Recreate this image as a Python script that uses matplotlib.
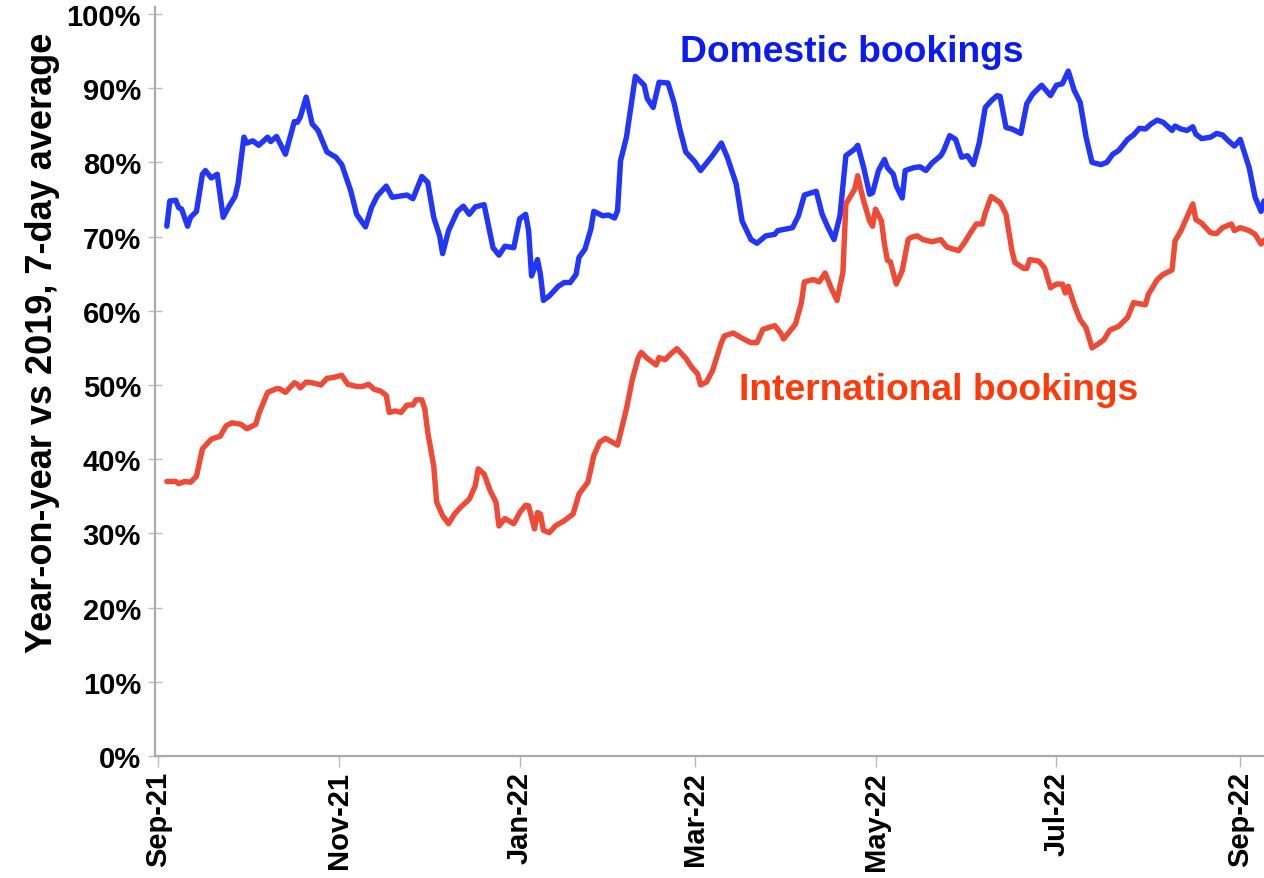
#!/usr/bin/env python3
"""Domestic vs international bookings, year-on-year vs 2019 (7-day average)."""

from datetime import date, timedelta

import matplotlib

matplotlib.use("Agg")
import matplotlib.dates as mdates
import matplotlib.pyplot as plt
from matplotlib.ticker import FixedLocator, FuncFormatter

START = date(2021, 9, 1)

# days after 1 Sep 2021, % of 2019 level
dom_day = [
    3, 4, 6, 7, 8, 10, 11, 13, 15, 16, 18, 20, 22, 24, 26, 27, 29, 30, 32, 34,
    37, 38, 40, 43, 46, 47, 48, 50, 52, 54, 57, 60, 62, 65, 67, 70, 72, 74, 77, 79,
    84, 86, 89, 91, 93, 95, 96, 98, 101, 103, 105, 107, 110, 113, 115, 117, 120, 122, 124, 125,
    126, 128, 129, 130, 132, 135, 137, 139, 141, 142, 144, 146, 147, 150, 152, 154, 155, 156, 158, 160,
    161, 164, 165, 167, 169, 172, 174, 176, 178, 181, 183, 187, 190, 192, 195, 197, 200, 202, 205, 208,
    209, 214, 216, 218, 222, 224, 226, 228, 230, 232, 235, 236, 238, 240, 241, 243, 245, 246, 248, 249,
    251, 252, 255, 257, 259, 261, 264, 265, 267, 269, 271, 273, 275, 277, 279, 281, 283, 284, 286, 288,
    291, 293, 295, 298, 301, 303, 305, 307, 309, 311, 313, 315, 318, 320, 322, 324, 327, 329, 331, 333,
    335, 337, 339, 342, 343, 345, 347, 349, 350, 352, 355, 357, 359, 361, 363, 365, 366, 368, 369, 370,
    372, 373,
]
dom_pct = [
    71.4, 74.8, 74.9, 73.9, 73.7, 71.4, 72.6, 73.4, 78.4, 78.9, 77.9, 78.4, 72.6, 74.1, 75.4, 77.1, 83.4, 82.6, 82.9, 82.3,
    83.4, 82.8, 83.5, 81.1, 85.5, 85.4, 86.1, 88.8, 85.2, 84.3, 81.4, 80.7, 79.7, 76.2, 73.0, 71.3, 73.9, 75.5, 76.8, 75.3,
    75.6, 75.1, 78.1, 77.3, 72.6, 70.1, 67.7, 70.8, 73.4, 74.1, 73.0, 74.0, 74.3, 68.5, 67.5, 68.7, 68.5, 72.4, 73.0, 70.8,
    64.7, 66.9, 64.9, 61.4, 62.0, 63.3, 63.8, 63.8, 64.9, 67.2, 68.3, 71.0, 73.4, 72.8, 72.9, 72.5, 73.5, 80.2, 83.4, 88.8,
    91.6, 90.4, 88.6, 87.4, 90.8, 90.7, 88.1, 84.5, 81.4, 80.1, 78.9, 80.9, 82.6, 80.7, 77.1, 72.1, 69.6, 69.1, 70.1, 70.3,
    70.8, 71.2, 72.8, 75.6, 76.1, 73.0, 71.2, 69.6, 72.8, 80.9, 81.8, 82.3, 79.3, 75.7, 75.9, 78.9, 80.4, 79.3, 78.4, 76.8,
    75.2, 78.9, 79.3, 79.4, 78.9, 79.9, 80.9, 81.6, 83.6, 83.1, 80.7, 80.9, 79.7, 82.7, 87.4, 88.3, 89.0, 88.9, 84.7, 84.5,
    83.9, 87.9, 89.2, 90.4, 89.0, 90.4, 90.6, 92.3, 89.7, 88.1, 83.4, 80.0, 79.7, 80.0, 81.1, 81.6, 83.1, 83.7, 84.6, 84.5,
    85.2, 85.7, 85.4, 84.3, 84.9, 84.5, 84.3, 84.8, 83.8, 83.2, 83.4, 83.9, 83.7, 82.9, 82.2, 83.1, 81.8, 79.3, 77.3, 75.3,
    73.4, 74.8,
]

intl_day = [
    3, 6, 7, 9, 11, 13, 15, 18, 21, 23, 25, 28, 30, 33, 34, 37, 40, 41, 43, 46,
    47, 48, 50, 52, 55, 57, 59, 62, 64, 67, 69, 71, 73, 75, 77, 78, 80, 82, 84, 86,
    87, 89, 90, 91, 93, 94, 96, 98, 100, 102, 105, 107, 108, 110, 112, 114, 115, 117, 120, 122,
    124, 125, 127, 128, 129, 130, 132, 134, 137, 140, 142, 145, 147, 149, 151, 155, 158, 160, 162, 163,
    165, 168, 169, 171, 173, 175, 178, 180, 182, 183, 185, 187, 190, 191, 194, 197, 200, 202, 204, 208,
    210, 211, 213, 215, 217, 218, 221, 223, 225, 227, 229, 231, 232, 235, 236, 237, 238, 240, 241, 242,
    244, 245, 246, 247, 249, 251, 253, 254, 256, 258, 261, 264, 266, 270, 272, 274, 276, 278, 279, 281,
    284, 286, 288, 289, 292, 293, 294, 297, 299, 301, 303, 305, 306, 307, 309, 311, 313, 315, 317, 319,
    321, 324, 327, 329, 333, 334, 337, 339, 342, 343, 345, 347, 349, 350, 352, 355, 357, 359, 362, 363,
    365, 368, 370, 372, 373,
]
intl_pct = [
    37.0, 37.0, 36.7, 37.0, 36.9, 37.7, 41.4, 42.7, 43.1, 44.5, 44.9, 44.7, 44.1, 44.7, 46.1, 49.0, 49.5, 49.5, 49.0, 50.3,
    50.1, 49.6, 50.4, 50.3, 50.0, 50.9, 51.0, 51.3, 50.1, 49.8, 49.8, 50.1, 49.4, 49.2, 48.6, 46.3, 46.5, 46.3, 47.3, 47.3,
    48.0, 48.0, 46.8, 43.6, 39.1, 34.2, 32.4, 31.3, 32.6, 33.5, 34.6, 36.4, 38.7, 38.0, 35.8, 34.2, 31.0, 32.0, 31.3, 32.8,
    33.8, 33.7, 30.6, 32.8, 32.6, 30.4, 30.1, 31.0, 31.7, 32.6, 35.3, 36.9, 40.5, 42.3, 42.8, 41.9, 46.8, 50.8, 53.7, 54.4,
    53.6, 52.7, 53.7, 53.4, 54.2, 54.9, 53.6, 52.4, 51.5, 50.0, 50.4, 51.9, 55.7, 56.6, 57.0, 56.3, 55.7, 55.7, 57.5, 58.0,
    57.0, 56.2, 57.2, 58.2, 61.1, 63.9, 64.2, 63.9, 65.1, 63.1, 61.4, 65.2, 74.4, 76.4, 78.2, 76.4, 74.8, 72.1, 71.4, 73.7,
    72.1, 69.0, 66.8, 66.6, 63.6, 65.4, 69.6, 69.9, 70.1, 69.6, 69.3, 69.6, 68.6, 68.1, 69.2, 70.5, 71.7, 71.7, 73.2, 75.4,
    74.6, 73.0, 68.1, 66.5, 65.7, 65.7, 66.9, 66.7, 65.8, 63.1, 63.6, 63.6, 62.4, 63.3, 60.8, 58.8, 57.7, 55.0, 55.5, 56.1,
    57.4, 57.9, 59.1, 61.1, 60.8, 62.2, 64.2, 64.9, 65.5, 69.4, 70.8, 72.6, 74.4, 72.3, 71.8, 70.5, 70.4, 71.2, 71.7, 70.8,
    71.2, 70.8, 70.3, 69.0, 69.5,
]

tick_months = ["2021-09-01", "2021-11-01", "2022-01-01", "2022-03-01",
               "2022-05-01", "2022-07-01", "2022-09-01"]
y_ticks = [0, 10, 20, 30, 40, 50, 60, 70, 80, 90, 100]


def to_dates(days):
    return [START + timedelta(days=d) for d in days]


def main():
    plt.rcParams["font.family"] = ["Liberation Sans", "DejaVu Sans"]
    plt.rcParams["font.weight"] = "bold"

    fig = plt.figure(figsize=(12.64, 8.79), dpi=100)
    ax = fig.add_axes([0.1226, 0.1388, 0.8774, 0.8526])

    ax.plot(to_dates(dom_day), dom_pct, color="#2236fb", linewidth=3.9,
            solid_joinstyle="round", solid_capstyle="round")
    ax.plot(to_dates(intl_day), intl_pct, color="#ef4a35", linewidth=3.9,
            solid_joinstyle="round", solid_capstyle="round")

    ax.text(START + timedelta(days=176), 93.7, "Domestic bookings",
            color="#0a1af2", fontsize=26.8, fontweight="bold", ha="left", va="baseline")
    ax.text(START + timedelta(days=196.4), 48.1, "International bookings",
            color="#ff3a0a", fontsize=26.8, fontweight="bold", ha="left", va="baseline")

    ax.set_xlim(START - timedelta(days=1), START + timedelta(days=373.1))
    ax.set_ylim(0, 101)

    ax.xaxis.set_major_locator(FixedLocator(
        [mdates.date2num(date.fromisoformat(s)) for s in tick_months]))
    ax.xaxis.set_major_formatter(mdates.DateFormatter("%b-%y"))
    ax.set_yticks(y_ticks)
    ax.yaxis.set_major_formatter(FuncFormatter(lambda v, _: f"{v:.0f}%"))

    for side in ("top", "right"):
        ax.spines[side].set_visible(False)
    for side in ("left", "bottom"):
        ax.spines[side].set_color("#ababab")
        ax.spines[side].set_linewidth(1.6)

    ax.tick_params(axis="x", direction="out", length=8, width=1, color="#bbbbbb",
                   labelsize=21, labelrotation=90, pad=3)
    ax.tick_params(axis="y", direction="inout", length=10, width=1, color="#bbbbbb",
                   labelsize=21, pad=5)
    for lbl in ax.get_xticklabels() + ax.get_yticklabels():
        lbl.set_fontweight("bold")

    ax.set_ylabel("Year-on-year vs 2019, 7-day average", fontsize=26,
                  fontweight="bold")
    ax.yaxis.set_label_coords(-0.086, 0.552)

    fig.savefig("out.png", dpi=100)


if __name__ == "__main__":
    main()
